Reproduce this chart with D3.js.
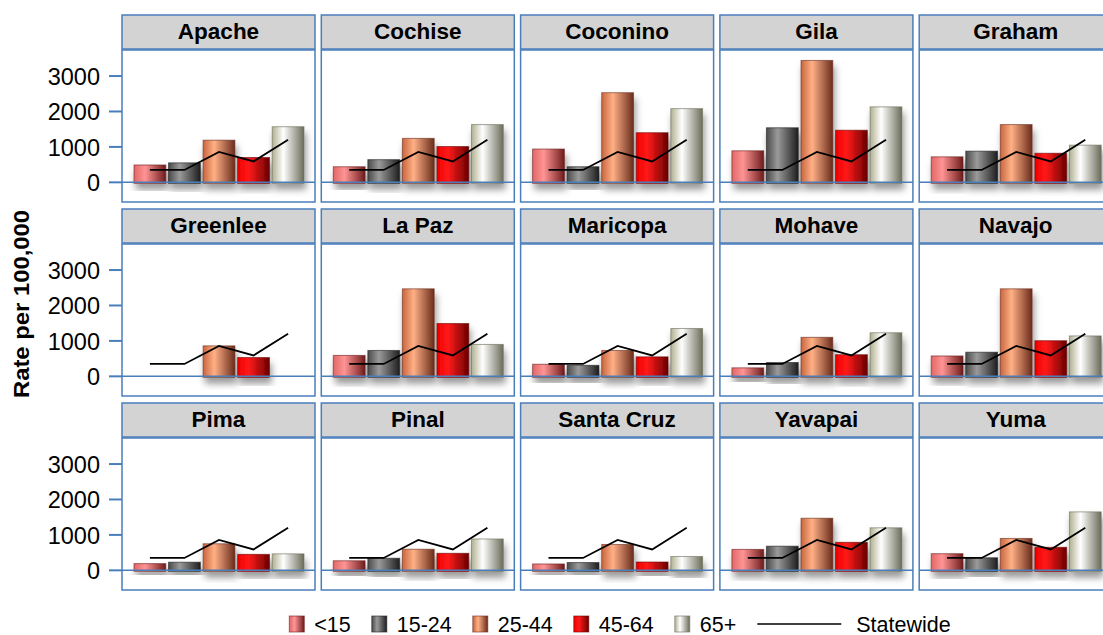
<!DOCTYPE html>
<html>
<head>
<meta charset="utf-8">
<script src="https://cdn.jsdelivr.net/npm/d3@7"></script>
<style>
  body { margin: 0; background: #fff; }
  svg text { font-family: "Liberation Sans", Arial, sans-serif; fill: #000; }
</style>
</head>
<body>
<svg id="chart" width="1103" height="635"></svg>
<script>
// county panels, in reading order
const counties = ["Apache", "Cochise", "Coconino", "Gila", "Graham",
                  "Greenlee", "La Paz", "Maricopa", "Mohave", "Navajo",
                  "Pima", "Pinal", "Santa Cruz", "Yavapai", "Yuma"];
const ageGroups = ["<15", "15-24", "25-44", "45-64", "65+"];

// rate per 100,000, one array per age group (same order as counties)
const under15   = [490, 440, 940, 890, 720, null, 590, 340, 240, 575, 190, 270, 180, 590, 470];
const age15to24 = [550, 640, 440, 1540, 880, null, 730, 310, 390, 680, 230, 340, 220, 680, 355];
const age25to44 = [1190, 1240, 2530, 3440, 1630, 860, 2470, 730, 1100, 2470, 750, 595, 730, 1470, 900];
const age45to64 = [700, 1010, 1400, 1470, 820, 530, 1490, 550, 610, 1005, 450, 480, 235, 790, 650];
const age65plus = [1570, 1630, 2080, 2130, 1050, null, 900, 1350, 1230, 1140, 465, 885, 390, 1200, 1650];
const statewide = [350, 350, 860, 590, 1200];
const yTicks = [0, 1000, 2000, 3000];

const series = [under15, age15to24, age25to44, age45to64, age65plus];

// gradient stops for the "cylinder" look: left edge, highlight, right edge
const shades = [
    ["#e06868", "#ff9494", "#6e1c1c"],
    ["#4a4a4a", "#9a9a9a", "#1e1e1e"],
    ["#c8653f", "#ffb085", "#6a2c1c"],
    ["#f00000", "#ff1a1a", "#6a0000"],
    ["#b0b090", "#ffffff", "#6c6c5a"]
];

const blue = "#4a7ebb";
const svg = d3.select("#chart");
const defs = svg.append("defs");

shades.forEach((s, i) => {
    const g = defs.append("linearGradient").attr("id", "grad" + i)
        .attr("x1", "0%").attr("x2", "100%").attr("y1", "0%").attr("y2", "0%");
    g.append("stop").attr("offset", "0%").attr("stop-color", s[0]);
    g.append("stop").attr("offset", "35%").attr("stop-color", s[1]);
    g.append("stop").attr("offset", "100%").attr("stop-color", s[2]);
});

const shadow = defs.append("filter").attr("id", "shadow")
    .attr("x", "-30%").attr("y", "-20%").attr("width", "170%").attr("height", "160%");
shadow.append("feDropShadow").attr("dx", 2).attr("dy", 6)
    .attr("stdDeviation", 3.5).attr("flood-color", "#000").attr("flood-opacity", 0.4);

// layout of the 5 x 3 grid
const nCols = 5;
const panelW = 193, colStep = 199.3, left = 122;
const stripTop = 15, stripH = 34, plotH = 152, rowStep = 194;

const colX = i => left + i * colStep;
const rowY = r => stripTop + r * rowStep;

const x = d3.scaleBand().domain(ageGroups).range([12, 182]).paddingInner(0.08);
const y = d3.scaleLinear().domain([-555, 3735]).range([plotH, 0]);

const line = d3.line()
    .x((d, i) => x(ageGroups[i]) + x.bandwidth() / 2)
    .y(d => y(d));

counties.forEach((name, ci) => {
    const col = ci % nCols, row = Math.floor(ci / nCols);
    const g = svg.append("g")
        .attr("transform", `translate(${colX(col)},${rowY(row)})`);

    // strip
    g.append("rect")
        .attr("x", 0).attr("y", 0)
        .attr("width", panelW).attr("height", stripH)
        .attr("fill", "#d3d3d3").attr("stroke", blue).attr("stroke-width", 1.5);
    g.append("text")
        .attr("x", panelW / 2).attr("y", 24)
        .attr("text-anchor", "middle")
        .attr("font-size", 22.5).attr("font-weight", "bold")
        .text(name);

    const p = g.append("g").attr("transform", `translate(0,${stripH + 1})`);
    p.append("rect")
        .attr("width", panelW).attr("height", plotH)
        .attr("fill", "#fff").attr("stroke", blue).attr("stroke-width", 1.5);

    const vals = series.map((s, i) => ({ age: ageGroups[i], i: i, v: s[ci] }))
        .filter(d => d.v != null);

    p.selectAll(".bar").data(vals).enter().append("rect")
        .attr("class", "bar")
        .attr("x", d => x(d.age))
        .attr("y", d => y(d.v))
        .attr("width", x.bandwidth())
        .attr("height", d => y(0) - y(d.v) + 1)
        .attr("fill", d => `url(#grad${d.i})`)
        .attr("stroke", d => shades[d.i][2])
        .attr("stroke-opacity", 0.6)
        .attr("stroke-width", 1)
        .attr("filter", "url(#shadow)");

    // zero line
    p.append("line")
        .attr("x1", 0).attr("x2", panelW)
        .attr("y1", y(0)).attr("y2", y(0))
        .attr("stroke", blue).attr("stroke-width", 1.5);

    p.append("path")
        .attr("d", line(statewide))
        .attr("fill", "none").attr("stroke", "#000").attr("stroke-width", 1.8);

    // y axis on the left column only
    if (col === 0) {
        const ax = p.append("g");
        yTicks.forEach(t => {
            ax.append("line")
                .attr("x1", -13).attr("x2", 0)
                .attr("y1", y(t)).attr("y2", y(t))
                .attr("stroke", blue).attr("stroke-width", 2);
            ax.append("text")
                .attr("x", -22).attr("y", y(t) + 9)
                .attr("text-anchor", "end")
                .attr("font-size", 23.5)
                .text(t);
        });
    }
});

// y axis title
svg.append("text")
    .attr("transform", "translate(29,304) rotate(-90)")
    .attr("text-anchor", "middle")
    .attr("font-size", 22).attr("font-weight", "bold")
    .attr("textLength", 188).attr("lengthAdjust", "spacingAndGlyphs")
    .text("Rate per 100,000");

// legend
const legend = svg.append("g").attr("transform", "translate(0,624)");
let lx = 0;
const items = legend.append("g");
ageGroups.forEach((a, i) => {
    items.append("rect")
        .attr("x", lx).attr("y", -8)
        .attr("width", 15).attr("height", 16)
        .attr("fill", `url(#grad${i})`)
        .attr("stroke", shades[i][2]).attr("stroke-opacity", 0.6);
    const t = items.append("text")
        .attr("x", lx + 25).attr("y", 7.5)
        .attr("font-size", 21.5)
        .text(a);
    lx += 25 + t.node().getComputedTextLength() + 21;
});
items.append("line")
    .attr("x1", lx).attr("x2", lx + 84)
    .attr("y1", 0).attr("y2", 0)
    .attr("stroke", "#000").attr("stroke-width", 1.5);
const st = items.append("text")
    .attr("x", lx + 99).attr("y", 7.5)
    .attr("font-size", 21.5)
    .text("Statewide");
const totalW = lx + 99 + st.node().getComputedTextLength();
items.attr("transform", `translate(${620 - totalW / 2},0)`);
</script>
</body>
</html>
